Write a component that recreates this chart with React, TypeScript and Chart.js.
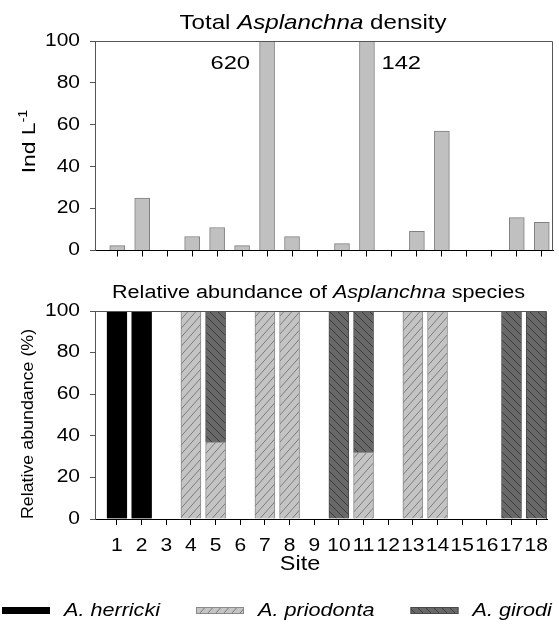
import React, { useEffect, useRef } from 'react';
import { Chart, registerables } from 'chart.js';

Chart.register(...registerables);

// ---------- data ----------
const SITES = [1, 2, 3, 4, 5, 6, 7, 8, 9, 10, 11, 12, 13, 14, 15, 16, 17, 18];
const DENSITY = [2.3, 25, 0, 6.7, 11, 2.3, 620, 6.6, 0, 3.3, 142, 0, 9.1, 57, 0, 0, 15.7, 13.5];
const HERRICKI = [100, 100, 0, 0, 0, 0, 0, 0, 0, 0, 0, 0, 0, 0, 0, 0, 0, 0];
const PRIODONTA = [0, 0, 0, 100, 37, 0, 100, 100, 0, 0, 32, 0, 100, 100, 0, 0, 0, 0];
const GIRODI = [0, 0, 0, 0, 63, 0, 0, 0, 0, 100, 68, 0, 0, 0, 0, 0, 100, 100];
const Y_TICKS = [0, 20, 40, 60, 80, 100];
const SPECIES = ['A. herricki', 'A. priodonta', 'A. girodi'];
const CLIPPED_LABEL_SIDE: Record<number, 'left' | 'right'> = { 7: 'left', 11: 'right' };

// ---------- style ----------
const FAMILY = '"Liberation Sans", Arial, Helvetica, sans-serif';
const SX = 1.2;
const X_MIN = 0.11;
const X_MAX = 18.45;

function patchCtx(ctx: any) {
  if (!ctx || ctx.__patched) return;
  const origFill = ctx.fillText.bind(ctx);
  const origMeasure = ctx.measureText.bind(ctx);
  ctx.__fill = origFill;
  ctx.__measure = origMeasure;
  ctx.fillText = (t: string, x: number, y: number) => {
    ctx.save();
    ctx.translate(x, y);
    ctx.scale(SX, 1);
    origFill(t, 0, 0);
    ctx.restore();
  };
  ctx.measureText = (t: string) => {
    const m = origMeasure(t);
    return {
      width: m.width * SX,
      actualBoundingBoxAscent: m.actualBoundingBoxAscent,
      actualBoundingBoxDescent: m.actualBoundingBoxDescent,
      actualBoundingBoxLeft: m.actualBoundingBoxLeft * SX,
      actualBoundingBoxRight: m.actualBoundingBoxRight * SX,
      fontBoundingBoxAscent: m.fontBoundingBoxAscent,
      fontBoundingBoxDescent: m.fontBoundingBoxDescent,
    };
  };
  ctx.__patched = true;
}

type Seg = { t: string; italic?: boolean; size?: number; rise?: number };

function drawRich(ctx: any, segs: Seg[], x0: number, y: number, size: number, sx: number, align: 'left' | 'center' | 'right') {
  ctx.save();
  ctx.textBaseline = 'alphabetic';
  ctx.textAlign = 'left';
  ctx.fillStyle = '#000';
  const fonts = segs.map((s) => `${s.italic ? 'italic ' : ''}${s.size ?? size}px ${FAMILY}`);
  const widths = segs.map((s, i) => {
    ctx.font = fonts[i];
    return ctx.__measure(s.t).width * sx;
  });
  const total = widths.reduce((a, b) => a + b, 0);
  let x = align === 'center' ? x0 - total / 2 : align === 'right' ? x0 - total : x0;
  segs.forEach((s, i) => {
    ctx.font = fonts[i];
    ctx.save();
    ctx.translate(x, y - (s.rise ?? 0));
    ctx.scale(sx, 1);
    ctx.__fill(s.t, 0, 0);
    ctx.restore();
    x += widths[i];
  });
  ctx.restore();
  return total;
}

function makePattern(bg: string, fg: string, w: number, h: number, dir: 'up' | 'down') {
  const c = document.createElement('canvas');
  c.width = w;
  c.height = h;
  const g = c.getContext('2d')!;
  g.fillStyle = bg;
  g.fillRect(0, 0, w, h);
  g.strokeStyle = fg;
  g.lineWidth = 1;
  for (const dx of [-w, 0, w]) {
    g.beginPath();
    if (dir === 'up') {
      g.moveTo(dx, h);
      g.lineTo(dx + w, 0);
    } else {
      g.moveTo(dx, 0);
      g.lineTo(dx + w, h);
    }
    g.stroke();
  }
  return g.createPattern(c, 'repeat')!;
}

const nz = (arr: number[]) => SITES.map((s, i) => ({ x: s, y: arr[i] === 0 ? null : arr[i] }));

function xAxis(showLabels: boolean, height: number) {
  return {
    type: 'linear',
    min: X_MIN,
    max: X_MAX,
    offset: false,
    stacked: true,
    afterBuildTicks: (s: any) => {
      s.ticks = SITES.map((v) => ({ value: v }));
    },
    afterFit: (s: any) => {
      s.height = height;
    },
    grid: { display: true, drawOnChartArea: false, drawTicks: true, tickLength: 6, color: '#000', offset: false },
    border: { display: true, color: '#000', width: 1 },
    ticks: {
      display: showLabels,
      autoSkip: false,
      maxRotation: 0,
      padding: 11,
      color: '#000',
      font: { family: FAMILY, size: 17.5 },
      callback: (v: any) => String(v),
    },
  };
}

function yAxis(stacked: boolean) {
  return {
    min: 0,
    max: 100,
    stacked,
    afterBuildTicks: (s: any) => {
      s.ticks = Y_TICKS.map((v) => ({ value: v }));
    },
    afterFit: (s: any) => {
      s.width = 95;
    },
    grid: { display: true, drawOnChartArea: false, drawTicks: true, tickLength: 5, color: '#555' },
    border: { display: true, color: '#555', width: 1 },
    ticks: { padding: 10, color: '#000', font: { family: FAMILY, size: 17.5 } },
  };
}

const frame = {
  id: 'frame',
  afterDraw(chart: any) {
    const { ctx, chartArea: a } = chart;
    ctx.save();
    ctx.strokeStyle = '#555';
    ctx.lineWidth = 1;
    ctx.beginPath();
    const t = Math.round(a.top) + 0.5;
    const r = Math.round(a.right) - 0.5;
    ctx.moveTo(a.left, t);
    ctx.lineTo(r, t);
    ctx.lineTo(r, a.bottom);
    ctx.stroke();
    ctx.restore();
  },
};

export default function App() {
  const topRef = useRef<HTMLCanvasElement>(null);
  const botRef = useRef<HTMLCanvasElement>(null);

  useEffect(() => {
    const c1 = topRef.current!;
    const c2 = botRef.current!;
    patchCtx(c1.getContext('2d'));
    patchCtx(c2.getContext('2d'));

    const pPrio = makePattern('#c4c4c4', '#7c7c7c', 8, 9, 'up');
    const pGiro = makePattern('#686868', '#3c3c3c', 8, 8, 'down');

    const topDeco = {
      id: 'topDeco',
      afterDraw(chart: any) {
        const ctx = chart.ctx;
        drawRich(ctx, [{ t: 'Total ' }, { t: 'Asplanchna', italic: true }, { t: ' density' }], 313, 28.5, 21, 1.15, 'center');
        // y title
        ctx.save();
        ctx.translate(35, 141.5);
        ctx.rotate(-Math.PI / 2);
        drawRich(ctx, [{ t: 'Ind L' }, { t: '-1', size: 12, rise: 8 }], 0, 0, 19, 1.2, 'center');
        ctx.restore();
        // labels for clipped bars
        const xs = chart.scales.x;
        const ys = chart.scales.y;
        DENSITY.forEach((v, i) => {
          if (v <= 100) return;
          const side = CLIPPED_LABEL_SIDE[SITES[i]] ?? 'right';
          const px = xs.getPixelForValue(SITES[i]);
          const by = ys.getPixelForValue(86.8);
          if (side === 'left') drawRich(ctx, [{ t: String(v) }], px - 7.5 - 9.5, by, 19, 1.25, 'right');
          else drawRich(ctx, [{ t: String(v) }], px + 7.5 + 7, by, 19, 1.25, 'left');
        });
      },
    };

    const fills = ['#000000', pPrio, pGiro];
    const borders = ['#000000', '#8a8a8a', '#4a4a4a'];

    const botDeco = {
      id: 'botDeco',
      afterDraw(chart: any) {
        const ctx = chart.ctx;
        drawRich(
          ctx,
          [{ t: 'Relative abundance of ' }, { t: 'Asplanchna', italic: true }, { t: ' species' }],
          318.5,
          35.5,
          18.8,
          1.15,
          'center'
        );
        ctx.save();
        ctx.translate(32.5, 162);
        ctx.rotate(-Math.PI / 2);
        drawRich(ctx, [{ t: 'Relative abundance (%)' }], 0, 0, 16.5, 1.08, 'center');
        ctx.restore();
        drawRich(ctx, [{ t: 'Site' }], 300, 308, 19.5, 1.2, 'center');
        // legend
        let x = 2;
        const boxW = 48;
        const boxH = 7;
        const boxY = 345;
        const textY = 354;
        SPECIES.forEach((label, i) => {
          ctx.save();
          ctx.fillStyle = fills[i];
          ctx.fillRect(x, boxY, boxW, boxH);
          ctx.strokeStyle = borders[i];
          ctx.lineWidth = 1;
          ctx.strokeRect(x + 0.5, boxY + 0.5, boxW - 1, boxH - 1);
          ctx.restore();
          const w = drawRich(ctx, [{ t: label, italic: true }], x + boxW + 14, textY, 18, 1.2, 'left');
          x += boxW + 14 + w + 36;
        });
      },
    };

    const ch1 = new Chart(c1, {
      type: 'bar',
      data: {
        datasets: [
          {
            label: 'Total density',
            data: nz(DENSITY) as any,
            backgroundColor: '#c0c0c0',
            borderColor: '#808080',
            borderWidth: 1,
            barThickness: 15,
          },
        ],
      },
      options: {
        responsive: false,
        animation: false,
        devicePixelRatio: 1,
        events: [],
        layout: { padding: { left: 0, right: 6, top: 41, bottom: 0 } },
        plugins: { legend: { display: false }, tooltip: { enabled: false }, title: { display: false } },
        scales: { x: xAxis(false, 13) as any, y: yAxis(false) as any },
      },
      plugins: [frame, topDeco],
    });

    const ch2 = new Chart(c2, {
      type: 'bar',
      data: {
        datasets: [
          { label: SPECIES[0], data: nz(HERRICKI) as any, backgroundColor: fills[0], borderColor: borders[0], borderWidth: 1, barThickness: 20 },
          { label: SPECIES[1], data: nz(PRIODONTA) as any, backgroundColor: fills[1] as any, borderColor: borders[1], borderWidth: 1, barThickness: 20 },
          { label: SPECIES[2], data: nz(GIRODI) as any, backgroundColor: fills[2] as any, borderColor: borders[2], borderWidth: 1, barThickness: 20 },
        ],
      },
      options: {
        responsive: false,
        animation: false,
        devicePixelRatio: 1,
        events: [],
        layout: { padding: { left: 0, right: 6, top: 49, bottom: 0 } },
        plugins: { legend: { display: false }, tooltip: { enabled: false }, title: { display: false } },
        scales: { x: xAxis(true, 105) as any, y: yAxis(true) as any },
      },
      plugins: [frame, botDeco],
    });

    return () => {
      ch1.destroy();
      ch2.destroy();
    };
  }, []);

  return (
    <div style={{ position: 'absolute', left: 0, top: 0, width: 559, height: 624, background: '#fff' }}>
      <canvas ref={topRef} width={559} height={271} style={{ position: 'absolute', left: 0, top: 0, width: 559, height: 271 }} />
      <canvas ref={botRef} width={559} height={362} style={{ position: 'absolute', left: 0, top: 262, width: 559, height: 362 }} />
    </div>
  );
}
